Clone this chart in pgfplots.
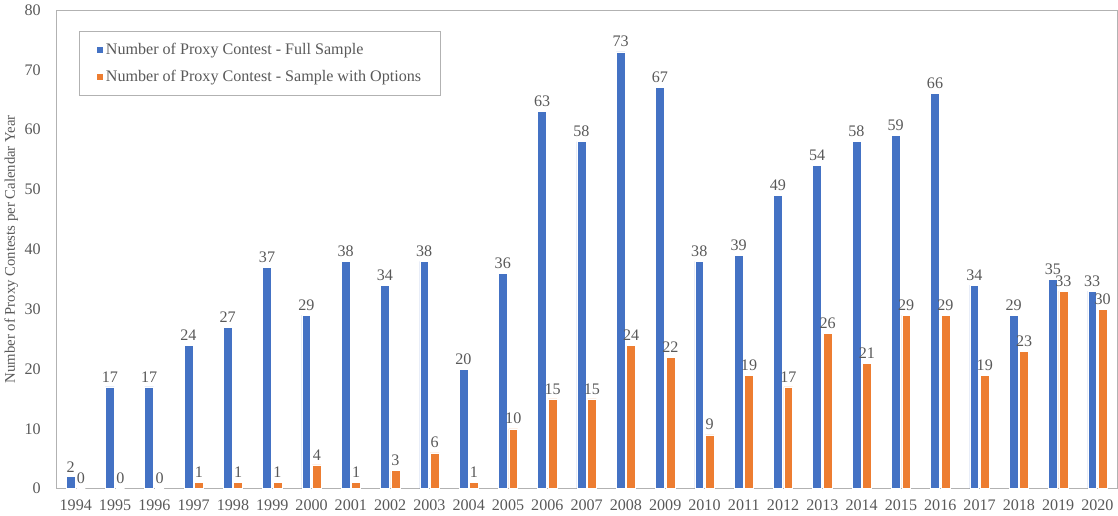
\documentclass[border=0pt]{standalone}
\usepackage{pgfplots}
\pgfplotsset{compat=1.18}
\usepackage{fontspec}
\setmainfont{Liberation Serif}
\definecolor{cblue}{HTML}{4472C4}
\definecolor{corange}{HTML}{ED7D31}
\definecolor{cgray}{HTML}{595959}
\begin{document}
\begin{tikzpicture}
\begin{axis}[
  scale only axis,
  width=791pt, height=357pt,
  xmin=-0.5, xmax=26.5,
  ymin=0, ymax=80,
  ytick={0,10,...,80},
  xtick={0,...,26},
  xticklabels={1994,1995,1996,1997,1998,1999,2000,2001,2002,2003,2004,2005,2006,2007,2008,2009,2010,2011,2012,2013,2014,2015,2016,2017,2018,2019,2020},
  major tick length=0pt,
  axis line style={draw=gray!60},
  tick label style={font=\fontsize{12}{14}\selectfont, text=cgray},
  xticklabel style={yshift=-5pt},
  yticklabel style={xshift=-8pt},
  /pgf/number format/assume math mode=true,
  ylabel={Number of Proxy Contests per Calendar Year},
  ylabel style={font=\fontsize{11}{13}\selectfont, text=cgray, yshift=-2pt},
  ybar,
  bar width=6.6pt,
  nodes near coords,
  nodes near coords style={font=\fontsize{12}{14}\selectfont, text=cgray},
  legend style={at={(rel axis cs:0.022,0.956)}, anchor=north west, draw=gray!60, font=\fontsize{12}{14}\selectfont, text=cgray, inner xsep=12pt, inner ysep=7pt, row sep=6pt},
  legend cell align=left,
  legend image code/.code={\fill[#1] (0cm,-0.09cm) rectangle (0.18cm,0.09cm);},
]
\addplot[fill=cblue, draw=white, line width=0.4pt, bar shift=-3.9pt] coordinates {
(0,2) (1,17) (2,17) (3,24) (4,27) (5,37) (6,29) (7,38) (8,34) (9,38) (10,20) (11,36) (12,63) (13,58) (14,73) (15,67) (16,38) (17,39) (18,49) (19,54) (20,58) (21,59) (22,66) (23,34) (24,29) (25,35) (26,33)};
\addplot[fill=corange, draw=white, line width=0.4pt, bar shift=3.9pt] coordinates {
(0,0) (1,0) (2,0) (3,1) (4,1) (5,1) (6,4) (7,1) (8,3) (9,6) (10,1) (11,10) (12,15) (13,15) (14,24) (15,22) (16,9) (17,19) (18,17) (19,26) (20,21) (21,29) (22,29) (23,19) (24,23) (25,33) (26,30)};
\legend{Number of Proxy Contest - Full Sample, Number of Proxy Contest - Sample with Options}
\end{axis}
\end{tikzpicture}
\end{document}
